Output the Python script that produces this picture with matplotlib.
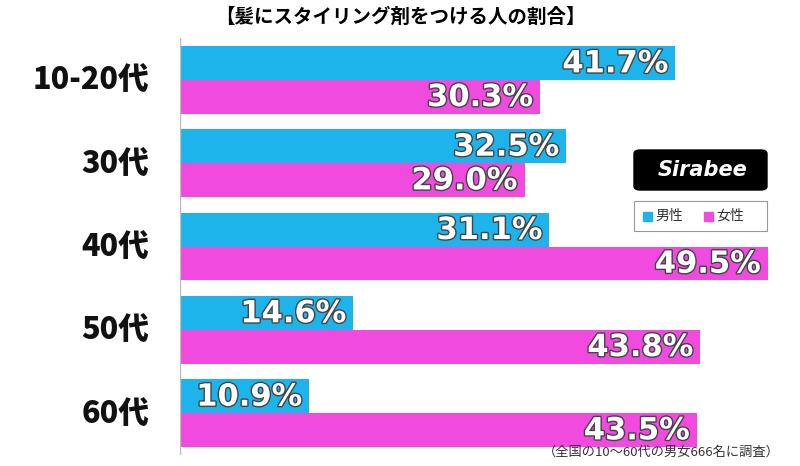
import matplotlib
matplotlib.use("Agg")
import matplotlib.pyplot as plt
import matplotlib.patheffects as pe
from matplotlib.patches import FancyBboxPatch, Rectangle

categories = ["10-20代", "30代", "40代", "50代", "60代"]
male = [41.7, 32.5, 31.1, 14.6, 10.9]
female = [30.3, 29.0, 49.5, 43.8, 43.5]
title = "【髪にスタイリング剤をつける人の割合】"
note = "（全国の10～60代の男女666名に調査）"

plt.rcParams["font.family"] = "Noto Sans CJK JP"
BLUE = "#1CB4EA"
PINK = "#F04ADF"

fig = plt.figure(figsize=(8, 4.66), dpi=100)
ax = fig.add_axes([0.225, 0.024, 0.7425, 0.894])
ys = range(len(categories))
h = 0.405
ax.barh([y - h / 2 for y in ys], male, height=h, color=BLUE)
ax.barh([y + h / 2 for y in ys], female, height=h, color=PINK)
ax.set_xlim(0, 50)
ax.set_ylim(4.5, -0.5)
ax.axis("off")
ax.axvline(0, color="#bbbbbb", lw=1)
stroke = [pe.withStroke(linewidth=2, foreground="#444444")]
for y, m, f in zip(ys, male, female):
    for v, yy in ((m, y - h / 2), (f, y + h / 2)):
        ax.text(v - 0.6, yy + 0.01, f"{v:.1f}%", ha="right", va="center",
                color="white", fontsize=22, fontweight="bold",
                fontfamily="DejaVu Sans", path_effects=stroke)
    ax.text(-2.6, y, categories[y], ha="right", va="center", fontsize=22,
            fontweight="black", color="#111111")

fig.text(0.5, 0.962, title, ha="center", va="center", fontsize=14, fontweight="bold")
fig.text(0.975, 0.015, note, ha="right", va="bottom", fontsize=9.5, color="#333333")

# logo
fig.patches.append(FancyBboxPatch((634 / 800, 1 - 190 / 466), 133 / 800, 40 / 466,
                                  boxstyle="round,pad=0,rounding_size=0.008",
                                  transform=fig.transFigure, color="black"))
fig.text(703 / 800, 1 - 170 / 466, "Sirabee", ha="center", va="center",
         color="white", fontsize=15, fontweight="bold", style="italic",
         fontfamily="DejaVu Sans")
# legend
fig.patches.append(Rectangle((634 / 800, 1 - 231 / 466), 133 / 800, 30 / 466,
                             transform=fig.transFigure, fill=False, ec="#999999", lw=0.8))
fig.patches.append(Rectangle((643 / 800, 1 - 221 / 466), 9 / 800, 9 / 466,
                             transform=fig.transFigure, color=BLUE))
fig.text(655 / 800, 1 - 216 / 466, "男性", va="center", fontsize=10, color="#333333")
fig.patches.append(Rectangle((704 / 800, 1 - 221 / 466), 9 / 800, 9 / 466,
                             transform=fig.transFigure, color=PINK))
fig.text(716 / 800, 1 - 216 / 466, "女性", va="center", fontsize=10, color="#333333")

fig.savefig("out.png", dpi=100)
